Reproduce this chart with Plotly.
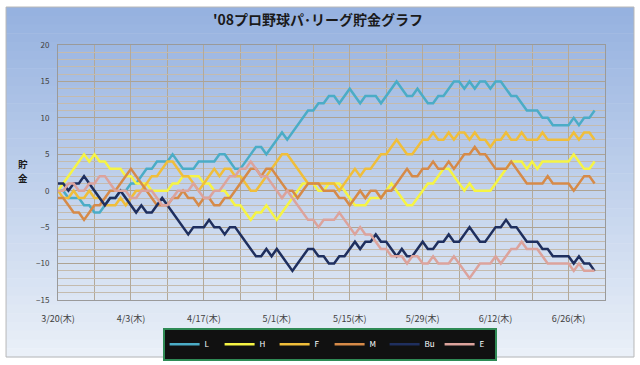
import pandas as pd
import plotly.graph_objects as go

start_date = "2008-03-20"
teams = ["L", "H", "F", "M", "Bu", "E"]

L = [0, 0, -1, -1, -1, -2, -2, -3, -3, -2,
     -1, -1, 0, 0, 1, 1, 2, 3, 3, 4,
     4, 4, 5, 4, 3, 3, 3, 4, 4, 4,
     4, 5, 5, 4, 3, 3, 4, 5, 6, 6,
     5, 6, 7, 8, 7, 8, 9, 10, 11, 11,
     12, 12, 13, 13, 12, 13, 14, 13, 12, 13,
     13, 13, 12, 13, 14, 15, 14, 13, 13, 14,
     13, 12, 12, 13, 13, 14, 15, 15, 14, 15,
     14, 15, 15, 14, 15, 15, 14, 13, 13, 12,
     11, 11, 11, 10, 10, 9, 9, 9, 9, 10,
     9, 10, 10, 11]
H = [0, 1, 2, 3, 4, 5, 4, 5, 4, 4,
     3, 3, 3, 2, 2, 1, 1, 1, 0, 0,
     0, 0, 1, 1, 2, 2, 2, 2, 1, 1,
     0, 0, 0, -1, -2, -2, -3, -4, -3, -3,
     -2, -3, -4, -3, -2, -1, 0, 1, 1, 1,
     0, 0, 1, 1, 1, 0, -1, -2, -2, -2,
     -1, -1, -1, 0, 1, 0, -1, -2, -2, -1,
     0, 1, 1, 2, 3, 3, 2, 1, 0, 1,
     0, 0, 0, 0, 1, 2, 3, 4, 4, 4,
     3, 4, 3, 4, 4, 4, 4, 4, 4, 5,
     4, 3, 3, 4]
F = [0, -1, -1, 0, -1, -1, 0, -1, -1, -2,
     -2, -2, -1, -2, -1, 0, 0, 1, 2, 2,
     3, 4, 4, 3, 2, 2, 1, 0, 1, 2,
     3, 2, 3, 3, 2, 2, 1, 0, 0, 1,
     2, 3, 4, 5, 5, 4, 3, 2, 1, 1,
     1, 1, 1, 1, 0, 1, 2, 3, 2, 3,
     3, 4, 5, 5, 6, 7, 6, 5, 5, 6,
     7, 7, 8, 7, 7, 8, 7, 8, 8, 7,
     8, 7, 7, 6, 7, 7, 8, 7, 7, 8,
     7, 7, 7, 8, 7, 7, 7, 7, 7, 8,
     7, 8, 8, 7]
M = [-1, -1, -2, -3, -3, -4, -3, -2, -2, -1,
     0, 0, 1, 2, 3, 2, 1, 0, -1, -2,
     -2, -2, -1, -1, 0, -1, -1, -2, -1, -1,
     -2, -2, -1, -1, 0, 1, 2, 3, 3, 2,
     3, 3, 2, 1, 0, 0, -1, 0, 1, 1,
     1, 0, 0, 0, -1, -1, -2, -1, 0, -1,
     0, 0, -1, 0, 0, 1, 2, 3, 2, 2,
     3, 3, 4, 3, 3, 4, 3, 4, 5, 5,
     6, 5, 5, 4, 3, 3, 3, 4, 3, 2,
     1, 1, 1, 1, 2, 1, 1, 1, 1, 0,
     1, 2, 2, 1]
Bu = [1, 1, 0, 1, 1, 2, 1, 0, -1, -2,
      -1, -1, 0, -1, -2, -3, -2, -3, -3, -2,
      -1, -2, -3, -4, -5, -6, -5, -5, -5, -4,
      -5, -5, -6, -5, -5, -6, -7, -8, -9, -9,
      -8, -9, -8, -9, -10, -11, -10, -9, -8, -8,
      -9, -9, -10, -10, -9, -9, -8, -7, -8, -7,
      -7, -6, -7, -7, -8, -9, -8, -9, -9, -8,
      -7, -8, -8, -7, -7, -6, -7, -7, -6, -5,
      -6, -7, -7, -6, -5, -5, -4, -5, -5, -6,
      -7, -7, -7, -8, -8, -9, -9, -9, -9, -10,
      -9, -10, -10, -11]
E = [0, 0, 1, 1, 0, 0, 1, 1, 2, 2,
     1, 0, 0, 0, -1, -1, 0, 0, 0, -1,
     -2, -2, -1, 0, 0, 0, 1, 0, -1, -1,
     0, 0, 1, 2, 2, 3, 3, 4, 3, 2,
     2, 1, 0, -1, 0, -1, -2, -3, -4, -4,
     -5, -4, -4, -4, -3, -4, -5, -6, -5, -6,
     -6, -7, -8, -8, -9, -9, -9, -10, -9, -9,
     -10, -10, -9, -10, -10, -10, -9, -10, -11, -12,
     -11, -10, -10, -10, -9, -10, -9, -8, -8, -7,
     -8, -8, -8, -9, -10, -10, -10, -10, -10, -11,
     -10, -11, -11, -11]

tick_dates = ["2008-03-20", "2008-04-03", "2008-04-17", "2008-05-01",
              "2008-05-15", "2008-05-29", "2008-06-12", "2008-06-26"]
tick_labels = ["3/20(木)", "4/3(木)", "4/17(木)", "5/1(木)",
               "5/15(木)", "5/29(木)", "6/12(木)", "6/26(木)"]

series = {"L": L, "H": H, "F": F, "M": M, "Bu": Bu, "E": E}
colors = {"L": "#4BACC6", "H": "#F6F444", "F": "#F0BE3A",
          "M": "#D68A48", "Bu": "#1F2F5E", "E": "#DCA39C"}

fig = go.Figure()
for name in teams:
    vals = series[name]
    dates = pd.date_range(start_date, periods=len(vals), freq="D")
    fig.add_trace(go.Scatter(x=dates, y=vals, mode="lines", name=name,
                             line=dict(color=colors[name], width=2.5)))

# background gradient (styling)
shapes = []
n = 40
top = (150, 178, 224)
bot = (234, 240, 248)
y_top, y_bot = 1.149, -0.2235
for i in range(n):
    t = i / (n - 1)
    c = tuple(int(top[k] + (bot[k] - top[k]) * t) for k in range(3))
    y1 = y_top - (y_top - y_bot) * i / n
    y0 = y_top - (y_top - y_bot) * (i + 1) / n
    shapes.append(dict(type="rect", xref="paper", yref="paper",
                       x0=-0.095, x1=1.053, y0=y0 - 0.002, y1=y1,
                       fillcolor="rgb(%d,%d,%d)" % c, line=dict(width=0),
                       layer="below"))
shapes.append(dict(type="rect", xref="paper", yref="paper",
                   x0=-0.095, x1=1.053, y0=y_bot, y1=y_top,
                   fillcolor="rgba(0,0,0,0)", line=dict(color="#B8B8B8", width=1),
                   layer="below"))

fig.update_layout(
    width=640, height=365,
    margin=dict(l=58, r=35, t=45, b=65, autoexpand=False),
    paper_bgcolor="white",
    plot_bgcolor="#DDD4C6",
    shapes=shapes,
    title=dict(text="<b>'08プロ野球パ･リーグ貯金グラフ</b>", x=0.497, xanchor="center",
               y=0.945, yanchor="middle",
               font=dict(family="Noto Sans CJK JP", size=14, color="#1A1A1A")),
    font=dict(family="Noto Sans CJK JP", color="#404040"),
    showlegend=True,
    legend=dict(orientation="h", xref="container", yref="container",
                x=0.515, xanchor="center", y=0.102, yanchor="top",
                bgcolor="#111111", bordercolor="#2F8A55", borderwidth=2,
                font=dict(color="white", size=8, family="Noto Sans CJK JP"),
                itemwidth=30, tracegroupgap=0,
                entrywidth=10, entrywidthmode="pixels"),
    xaxis=dict(type="date", range=["2008-03-20", "2008-07-03"],
               tickvals=tick_dates, ticktext=tick_labels,
               tickfont=dict(size=9, color="#404040"),
               ticks="outside", ticklen=10, tickcolor="rgba(0,0,0,0)",
               showgrid=True, gridcolor="#B3A999", gridwidth=1,
               minor=dict(dtick=7 * 86400000, tick0="2008-03-20",
                          showgrid=True, gridcolor="#B3A999", gridwidth=1),
               showline=True, linecolor="#9A9A9A", mirror=True, zeroline=False,
               automargin=False),
    yaxis=dict(range=[-15, 20], dtick=5, tick0=0,
               tickfont=dict(size=8, color="#404040"),
               ticks="outside", ticklen=6, tickcolor="rgba(0,0,0,0)",
               showgrid=True, gridcolor="#ADA393", gridwidth=1,
               minor=dict(dtick=1, showgrid=True, gridcolor="#C4BBAE", gridwidth=1),
               showline=True, linecolor="#9A9A9A", mirror=True, zeroline=False,
               automargin=False),
    annotations=[
        dict(text="<b>貯</b>", xref="paper", yref="paper",
             x=-0.064, y=0.533, xanchor="center", yanchor="middle", showarrow=False,
             font=dict(size=9.5, color="#1A1A1A", family="Noto Sans CJK JP")),
        dict(text="<b>金</b>", xref="paper", yref="paper",
             x=-0.064, y=0.478, xanchor="center", yanchor="middle", showarrow=False,
             font=dict(size=9.5, color="#1A1A1A", family="Noto Sans CJK JP")),
    ],
)

fig.write_html("out.html", config={"displayModeBar": False},
               post_script="document.body.style.margin='0px';document.body.style.overflow='hidden';")
